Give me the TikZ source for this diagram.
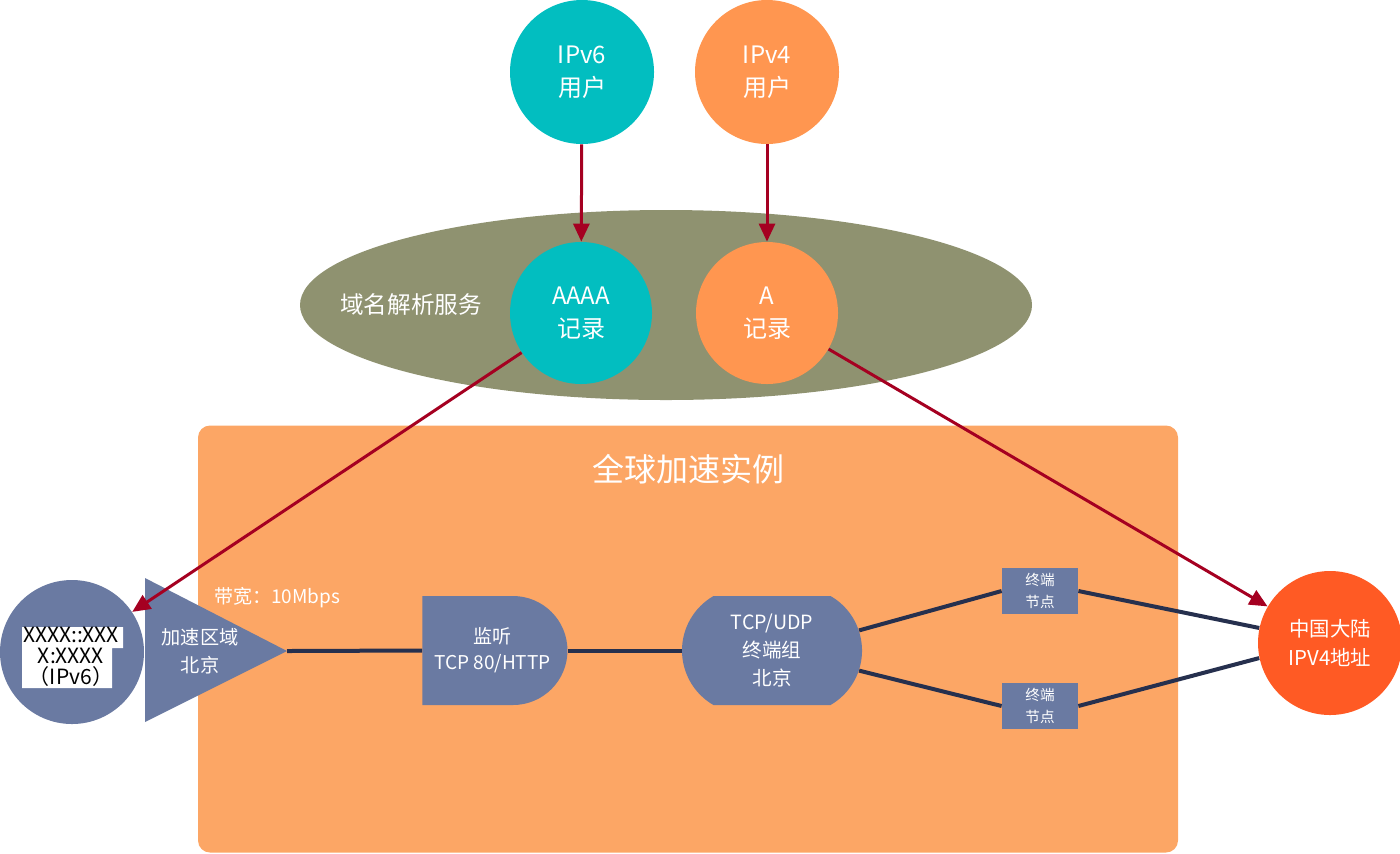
\documentclass[tikz,border=0pt]{standalone}
\usepackage{fontspec}
\setmainfont{Noto Sans CJK SC}
\usetikzlibrary{arrows.meta,shapes.geometric,shapes.misc,calc}
\definecolor{tealc}{RGB}{2,190,192}
\definecolor{orangec}{RGB}{255,150,80}
\definecolor{olivec}{RGB}{143,146,112}
\definecolor{boxc}{RGB}{252,166,101}
\definecolor{slatec}{RGB}{106,122,162}
\definecolor{navyc}{RGB}{38,48,78}
\definecolor{redc}{RGB}{165,0,33}
\definecolor{chinac}{RGB}{255,90,36}
\newcommand{\fsz}[2]{\fontsize{#1}{#2}\selectfont}
\begin{document}
\begin{tikzpicture}[x=0.5pt,y=-0.5pt,
  bigcirc/.style={circle,minimum size=72pt,inner sep=0pt,text=white,align=center,font=\fsz{12}{16.5}},
  redarrow/.style={draw=redc,line width=1.5pt,-{Triangle[length=9pt,width=8pt]}},
  navyline/.style={draw=navyc,line width=2pt},
  slateshape/.style={fill=slatec,text=white,align=center,inner sep=0pt}
]
\useasboundingbox (0,0) rectangle (1400,853);
% background box
\node[fill=boxc,rounded corners=6pt,minimum width=490pt,minimum height=213.5pt,inner sep=0pt] (gabox) at (688,639) {};
\node[text=white,font=\fsz{16}{18}] (gatitle) at (688,469) {全球加速实例};
% DNS ellipse
\node[ellipse,fill=olivec,minimum width=366pt,minimum height=95pt,inner sep=0pt] (dns) at (666,305) {};
\node[text=white,font=\fsz{11.8}{14}] (dnslabel) at (411,305) {域名解析服务};
% user circles
\node[bigcirc,fill=tealc] (v6user) at (582,72) {IPv6\\用户};
\node[bigcirc,fill=orangec] (v4user) at (767,72) {IPv4\\用户};
\node[bigcirc,fill=tealc,minimum size=71pt] (aaaa) at (581,313) {AAAA\\记录};
\node[bigcirc,fill=orangec,minimum size=71pt] (arec) at (767,313) {A\\记录};
% IPv6 address circle
\node[circle,fill=slatec,minimum size=72pt,inner sep=0pt] (v6addr) at (72,652) {};
\fill[white] (22,627) -- (123,627) -- (123,648) -- (112,648) -- (112,688) -- (22,688) -- cycle;
\node[text=black,align=center,font=\fsz{10.5}{10.5},inner sep=0pt] (addrtext) at (71,657) {XXXX::XXX\\X:XXXX\\（IPv6）};
% triangle
\coordinate (tl) at (145,578);
\coordinate (apex) at (287,651);
\coordinate (bl) at (145,722);
\fill[slatec] (tl) -- (apex) -- (bl) -- cycle;
\node[text=white,align=center,font=\fsz{9.6}{14}] (accel) at (200,651) {加速区域\\北京};
\node[text=white,anchor=west,font=\fsz{9.5}{10},inner sep=0pt] (bw) at (214,598) {带宽：10Mbps};
% listener
\node[slateshape,rounded rectangle,rounded rectangle left arc=none,minimum width=72.5pt,minimum height=54.5pt,font=\fsz{9.5}{13}] (listen) at (492.5,650.5) {监听\\TCP 80/HTTP};
% endpoint group
\node[slateshape,rounded rectangle,rounded rectangle arc length=120,minimum width=90pt,minimum height=54.5pt,font=\fsz{9.8}{13.8}] (tcp) at (772,650.5) {TCP/UDP\\终端组\\北京};
% endpoint nodes
\node[slateshape,rectangle,minimum width=38pt,minimum height=23pt,font=\fsz{7.3}{11}] (ep1) at (1040,591) {终端\\节点};
\node[slateshape,rectangle,minimum width=38pt,minimum height=23pt,font=\fsz{7.3}{11}] (ep2) at (1040,706) {终端\\节点};
% China circle
\node[bigcirc,fill=chinac,font=\fsz{10.2}{14.5}] (china) at (1330,643) {中国大陆\\IPV4地址};
% navy lines
\draw[navyline] (apex) -- (listen.west);
\draw[navyline] (listen.east) -- (tcp.west);
\draw[navyline] (tcp.13) -- (ep1.west);
\draw[navyline] (tcp.-13) -- (ep2.west);
\draw[navyline] (ep1.east) -- (china.168);
\draw[navyline] (ep2.east) -- (china.192);
% red arrows
\draw[redarrow] (v6user) -- (aaaa);
\draw[redarrow] (v4user) -- (arec);
\draw[redarrow] (aaaa) -- (v6addr);
\draw[redarrow] (arec) -- (china);
\end{tikzpicture}
\end{document}
